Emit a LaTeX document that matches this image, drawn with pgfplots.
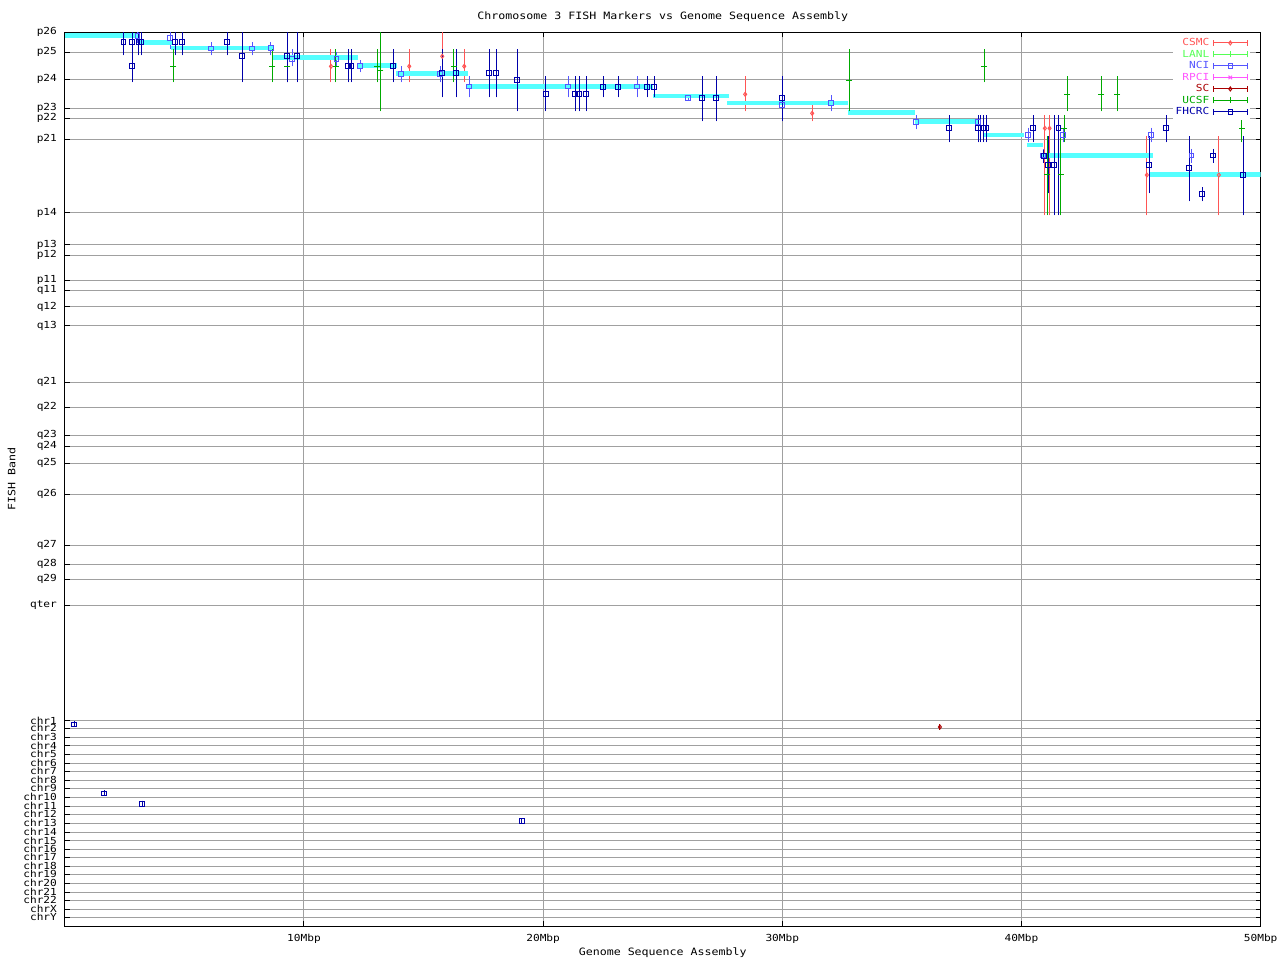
\documentclass[border=0pt]{standalone}
\usepackage{fontspec}
\setmainfont[FakeStretch=1.15]{DejaVu Sans Mono}
\usepackage{pgfplots}
\usepackage{pgfplotstable}
\pgfplotsset{compat=1.18}

\definecolor{csmc}{HTML}{FF5555}
\definecolor{lanl}{HTML}{55FF55}
\definecolor{nci}{HTML}{5555FF}
\definecolor{rpci}{HTML}{FF55FF}
\definecolor{sc}{HTML}{AA0000}
\definecolor{ucsf}{HTML}{00AA00}
\definecolor{fhcrc}{HTML}{0000AA}
\definecolor{asm}{HTML}{55FFFF}
\definecolor{gridgray}{HTML}{A0A0A0}

% y values are band positions (p26 at top ... chrY at bottom)
% x = position in Mbp, top/bot = extent of the FISH band range
\pgfplotstableread{
x y top bot
2.446 42.3 32.3 52.3
2.822 42.3 32.3 52.3
2.822 66.3 52.3 79.3
3.102 42.3 32.3 52.3
3.215 42.3 32.3 52.3
4.620 42.3 32.3 52.3
4.912 42.3 32.3 52.3
6.793 42.3 32.3 52.3
7.421 56.3 32.3 79.3
9.302 56.3 32.3 79.3
9.720 56.3 32.3 79.3
11.852 66.3 52.3 79.3
11.994 66.3 52.3 79.3
13.733 66.3 52.3 79.3
15.782 73.3 52.3 94.3
16.367 73.3 52.3 94.3
17.747 73.3 52.3 94.3
18.039 73.3 52.3 94.3
18.917 80.3 52.3 108.3
20.117 94.3 79.3 108.3
21.342 94.3 79.3 108.3
21.509 94.3 79.3 108.3
21.802 94.3 79.3 108.3
22.513 87.3 79.3 94.3
23.140 87.3 79.3 94.3
24.352 87.3 79.3 94.3
24.645 87.3 79.3 94.3
26.651 98.3 79.3 118.3
27.237 98.3 79.3 118.3
29.996 98.3 79.3 118.3
36.977 128.3 118.3 139.3
38.190 128.3 118.3 139.3
38.303 128.3 118.3 139.3
38.416 128.3 118.3 139.3
38.524 128.3 118.3 139.3
40.489 128.3 118.3 139.3
40.936 156.0 152.7 160.0
41.116 165.0 139.3 190.3
41.367 165.0 118.3 212.3
41.543 128.3 118.3 212.3
45.339 165.0 139.3 190.3
46.050 128.3 118.3 139.3
47.011 168.3 139.3 198.3
47.555 194.0 190.3 198.3
48.014 155.7 152.0 159.7
49.269 175.0 139.3 212.3
0.397 724.3 724.3 724.3
1.651 793.3 793.3 793.3
3.240 803.7 803.7 803.7
19.114 821.0 821.0 821.0
}\fhcrc

\pgfplotstableread{
x y top bot
3.039 36.0 32.3 40.0
4.411 38.3 32.3 45.7
6.124 48.7 45.3 52.3
7.839 48.7 45.3 52.3
8.620 48.0 45.3 52.3
9.511 59.0 52.3 63.3
11.367 59.0 55.0 63.3
12.354 66.3 63.3 69.5
14.068 74.3 69.3 79.3
15.698 74.3 69.3 79.3
16.910 86.7 79.3 94.3
21.049 86.7 79.3 94.3
23.934 86.7 79.3 94.3
26.066 98.3 98.3 98.3
29.996 105.0 103.0 107.0
32.044 103.3 98.3 108.3
35.598 122.3 118.3 126.3
38.190 122.3 118.3 126.3
40.280 135.0 130.7 139.3
40.907 155.7 152.0 159.7
41.743 135.0 130.7 139.3
45.423 135.0 130.7 139.3
47.111 155.7 152.0 159.7
}\nci

\pgfplotstableread{
x y top bot
4.536 66.3 52.3 79.3
8.675 66.3 52.3 79.3
9.302 66.3 52.3 79.3
11.325 66.3 52.3 79.3
13.064 66.3 52.3 79.3
13.190 70.3 32.3 108.3
16.271 66.3 52.3 79.3
32.797 80.3 52.3 108.3
38.441 66.3 52.3 79.3
41.075 175.0 139.3 212.3
41.635 175.0 139.3 212.3
41.786 128.3 118.3 139.3
41.911 94.3 79.3 108.3
43.332 94.3 79.3 108.3
44.001 94.3 79.3 108.3
49.202 128.3 118.3 139.3
}\ucsf

\pgfplotstableread{
x y top bot
11.129 66.3 52.3 79.3
14.402 66.3 52.3 79.3
15.782 56.3 32.3 79.3
16.702 66.3 52.3 79.3
28.449 94.3 79.3 108.3
31.250 113.3 108.3 118.3
40.978 128.3 118.3 212.3
41.175 128.3 118.3 212.3
45.243 175.0 139.3 212.3
48.253 175.0 139.3 212.3
}\csmc

\pgfplotstableread{
x y top bot
36.589 727.0 727.0 727.0
}\scdata

% sequence assembly band segments
\pgfplotstableread{
x y
0.000 35.3
3.060 35.3
nan nan
3.060 42.7
4.511 42.7
nan nan
4.440 48.0
8.692 48.0
nan nan
8.650 57.7
12.270 57.7
nan nan
12.228 65.7
13.876 65.7
nan nan
13.834 73.7
16.869 73.7
nan nan
16.827 86.7
24.603 86.7
nan nan
24.603 96.0
27.780 96.0
nan nan
27.697 103.0
32.755 103.0
nan nan
32.730 112.7
35.543 112.7
nan nan
35.543 121.7
38.219 121.7
nan nan
38.386 135.0
40.100 135.0
nan nan
40.213 145.0
40.882 145.0
nan nan
40.840 155.7
45.481 155.7
nan nan
45.368 174.7
50.000 174.7
}\asmb

\pgfplotsset{
  ebar/.style={only marks, color=#1,
    mark options={solid, line width=1pt, draw=#1, fill=none},
    error bars/y dir=both, error bars/y explicit,
    error bars/error bar style={line width=1pt, draw=#1},
    error bars/error mark options={mark size=3pt, line width=1pt, draw=#1}},
  table/ebtab/.style={x=x, y=y, y error plus expr=\thisrow{bot}-\thisrow{y},
    y error minus expr=\thisrow{y}-\thisrow{top}},
}

\begin{document}
\begin{tikzpicture}[font=\fontsize{9.7}{12}\selectfont]
\useasboundingbox (0,0) rectangle (1280pt,960pt);
\fill[white] (0,0) rectangle (1280pt,960pt);
\begin{axis}[
  at={(64.8pt,33.7pt)}, anchor=south west,
  scale only axis, width=1195.9pt, height=894pt,
  xmin=0, xmax=50, ymin=32.3, ymax=926.3, y dir=reverse,
  xtick={10,20,30,40,50},
  xticklabels={10Mbp,20Mbp,30Mbp,40Mbp,50Mbp},
  ytick={32.3,52.3,79.3,108.3,118.3,139.3,212.5,245,255.3,280.3,290.3,306.7,325.7,
    382.3,407.3,435.3,446.3,463.3,494.3,545.3,564.3,579,605.3,
    720.7,728.3,737.3,745.7,754,763,771.3,780,788.3,797.3,806.3,814.3,823.3,832,
    840.7,849.3,857.3,866,874.3,883,892.3,900.3,909.3,917.3},
  yticklabels={p26,p25,p24,p23,p22,p21,p14,p13,p12,p11,q11,q12,q13,
    q21,q22,q23,q24,q25,q26,q27,q28,q29,qter,
    chr1,chr2,chr3,chr4,chr5,chr6,chr7,chr8,chr9,chr10,chr11,chr12,chr13,chr14,
    chr15,chr16,chr17,chr18,chr19,chr20,chr21,chr22,chrX,chrY},
  tick align=inside, major tick length=5pt,
  tick style={black, line width=1pt},
  axis line style={line width=1pt},
  xmajorgrids, ymajorgrids,
  grid style={gridgray, line width=1pt},
  yticklabel style={anchor=east, inner sep=0pt, xshift=-7.7pt},
  xticklabel style={yshift=-4pt},
  title={Chromosome 3 FISH Markers vs Genome Sequence Assembly},
  title style={at={(axis description cs:0.5,1.0109)}, anchor=center,
    font=\fontsize{10.1}{12}\selectfont},
  xlabel={Genome Sequence Assembly},
  xlabel style={at={(axis description cs:0.5,-0.0299)}, anchor=center,
    font=\fontsize{10.1}{12}\selectfont},
  ylabel={FISH Band},
  ylabel style={at={(axis description cs:-0.0444,0.5)}, anchor=center,
    font=\fontsize{10.1}{12}\selectfont},
  unbounded coords=jump,
  legend plot pos=right,
  legend cell align=right,
  legend style={at={(axis description cs:0.9911,0.997)}, anchor=north east,
    draw=none, fill=white, inner sep=2pt, column sep=3pt,
    nodes={inner sep=0.5pt, text height=8pt, text depth=2.5pt}},
  legend image code/.code={
    \draw[#1, mark=none] (0pt,0pt) -- (34pt,0pt)
      (0pt,-3pt) -- (0pt,3pt) (34pt,-3pt) -- (34pt,3pt);
    \draw[#1, only marks] plot coordinates {(17pt,0pt)};
  },
]
\addplot[ebar=csmc, mark=diamond, mark size=2pt, forget plot]
  table[ebtab] {\csmc};
\addplot[ebar=nci, mark=square, mark size=2.3pt, forget plot]
  table[ebtab] {\nci};
\addplot[asm, line width=4.5pt, forget plot] table[x=x, y=y] {\asmb};
\addplot[ebar=sc, mark=diamond, mark size=2pt, forget plot]
  table[ebtab] {\scdata};
\addplot[ebar=ucsf, mark=-, mark size=3pt, forget plot]
  table[ebtab] {\ucsf};
\addplot[ebar=fhcrc, mark=square, mark size=2.3pt, forget plot]
  table[ebtab] {\fhcrc};

\addlegendimage{csmc, line width=1pt, mark=diamond, mark size=2pt}
\addlegendentry{\textcolor{csmc}{CSMC}}
\addlegendimage{lanl, line width=1pt, mark=|, mark size=3pt}
\addlegendentry{\textcolor{lanl}{LANL}}
\addlegendimage{nci, line width=1pt, mark=square, mark size=2.3pt}
\addlegendentry{\textcolor{nci}{NCI}}
\addlegendimage{rpci, line width=1pt, mark=x, mark size=2.5pt}
\addlegendentry{\textcolor{rpci}{RPCI}}
\addlegendimage{sc, line width=1pt, mark=diamond, mark size=2pt}
\addlegendentry{\textcolor{sc}{SC}}
\addlegendimage{ucsf, line width=1pt, mark=|, mark size=3pt}
\addlegendentry{\textcolor{ucsf}{UCSF}}
\addlegendimage{fhcrc, line width=1pt, mark=square, mark size=2.3pt}
\addlegendentry{\textcolor{fhcrc}{FHCRC}}
\end{axis}
\end{tikzpicture}
\end{document}
